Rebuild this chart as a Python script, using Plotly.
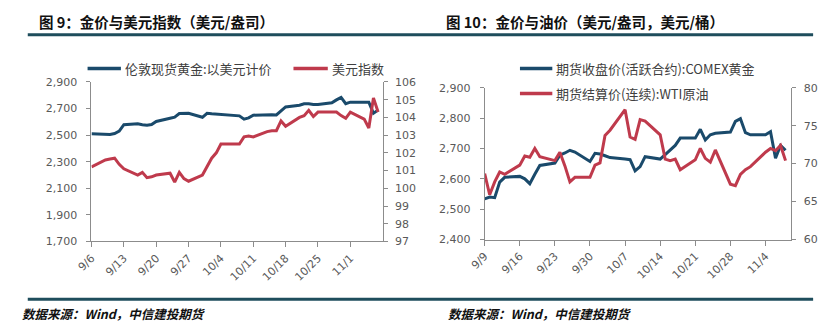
import plotly.graph_objects as go

# ---------------- Left chart: gold spot vs USD index ----------------
left_dates = ["2024-09-06","2024-09-09","2024-09-10","2024-09-11","2024-09-12","2024-09-13",
              "2024-09-16","2024-09-17","2024-09-18","2024-09-19","2024-09-20",
              "2024-09-23","2024-09-24","2024-09-25","2024-09-26","2024-09-27",
              "2024-09-30","2024-10-01","2024-10-02","2024-10-03","2024-10-04",
              "2024-10-07","2024-10-08","2024-10-09","2024-10-10","2024-10-11",
              "2024-10-14","2024-10-15","2024-10-16","2024-10-17","2024-10-18",
              "2024-10-21","2024-10-22","2024-10-23","2024-10-24","2024-10-25",
              "2024-10-28","2024-10-29","2024-10-30","2024-10-31","2024-11-01",
              "2024-11-04","2024-11-05","2024-11-06","2024-11-07"]
gold_spot = [2510,2507,2505,2512,2530,2578,
             2585,2578,2575,2580,2603,
             2627,2635,2662,2664,2664,
             2634,2664,2660,2658,2655,
             2652,2645,2620,2630,2650,
             2656,2654,2652,2680,2712,
             2725,2736,2736,2730,2730,
             2743,2765,2784,2736,2748,
             2748,2748,2664,2688]
usd_index = [101.2,101.6,101.65,101.7,101.35,101.1,
             100.75,100.9,100.6,100.65,100.75,
             100.85,100.35,100.9,100.55,100.4,
             100.75,101.2,101.7,102.0,102.5,
             102.5,102.5,102.9,102.95,102.9,
             103.2,103.25,103.25,103.8,103.5,
             104.0,104.1,104.4,104.05,104.3,
             104.3,104.3,104.1,103.95,104.3,
             103.9,103.4,105.1,104.3]
left_ticks = ["2024-09-06","2024-09-13","2024-09-20","2024-09-27","2024-10-04",
              "2024-10-11","2024-10-18","2024-10-25","2024-11-01"]
left_ticktext = ["9/6","9/13","9/20","9/27","10/4","10/11","10/18","10/25","11/1"]
left_names = ["伦敦现货黄金:以美元计价", "美元指数"]

# ---------------- Right chart: COMEX gold vs WTI ----------------
right_dates = ["2024-09-09","2024-09-10","2024-09-11","2024-09-12","2024-09-13",
               "2024-09-16","2024-09-17","2024-09-18","2024-09-19","2024-09-20",
               "2024-09-23","2024-09-24","2024-09-25","2024-09-26","2024-09-27",
               "2024-09-30","2024-10-01","2024-10-02","2024-10-03","2024-10-04",
               "2024-10-07","2024-10-08","2024-10-09","2024-10-10","2024-10-11",
               "2024-10-14","2024-10-15","2024-10-16","2024-10-17","2024-10-18",
               "2024-10-21","2024-10-22","2024-10-23","2024-10-24","2024-10-25",
               "2024-10-28","2024-10-29","2024-10-30","2024-10-31","2024-11-01",
               "2024-11-04","2024-11-05","2024-11-06","2024-11-07","2024-11-08"]
comex_gold = [2534,2540,2538,2589,2605,
              2608,2600,2584,2615,2644,
              2652,2678,2685,2694,2688,
              2657,2684,2682,2676,2670,
              2665,2663,2626,2640,2673,
              2665,2680,2694,2710,2734,
              2734,2763,2728,2745,2750,
              2754,2789,2798,2752,2745,
              2745,2755,2668,2710,2694]
wti_oil = [68.7,65.9,67.6,68.9,68.6,
           69.8,71.0,70.85,72.0,70.9,
           70.4,71.5,69.7,67.6,68.2,
           68.2,69.8,70.1,73.7,74.4,
           77.1,73.5,73.2,75.8,75.6,
           73.8,70.6,70.4,70.6,69.2,
           70.5,72.0,70.7,70.2,71.8,
           67.3,67.1,68.6,69.2,69.6,
           71.5,72.0,71.7,72.4,70.4]
right_ticks = ["2024-09-09","2024-09-16","2024-09-23","2024-09-30","2024-10-07",
               "2024-10-14","2024-10-21","2024-10-28","2024-11-04"]
right_ticktext = ["9/9","9/16","9/23","9/30","10/7","10/14","10/21","10/28","11/4"]
right_names = ["期货收盘价(活跃合约):COMEX黄金", "期货结算价(连续):WTI原油"]

BLUE = "#1A4A6B"
RED = "#BF3A4C"
AXC = "#8C8C8C"
TXT = "#595959"
LINEC = "#1E4D5C"
W, H = 819, 335

def px(x):
    return x / W

def py(y):
    return 1 - y / H

fig = go.Figure()
fig.add_trace(go.Scatter(x=left_dates, y=gold_spot, mode="lines", name=left_names[0],
                         line=dict(color=BLUE, width=3), xaxis="x", yaxis="y", showlegend=False))
fig.add_trace(go.Scatter(x=left_dates, y=usd_index, mode="lines", name=left_names[1],
                         line=dict(color=RED, width=3), xaxis="x", yaxis="y2", showlegend=False))
fig.add_trace(go.Scatter(x=right_dates, y=comex_gold, mode="lines", name=right_names[0],
                         line=dict(color=BLUE, width=3), xaxis="x2", yaxis="y3", showlegend=False))
fig.add_trace(go.Scatter(x=right_dates, y=wti_oil, mode="lines", name=right_names[1],
                         line=dict(color=RED, width=3), xaxis="x2", yaxis="y4", showlegend=False))

tickfont = dict(family="DejaVu Sans, Verdana, sans-serif", size=11, color=TXT)
common = dict(showgrid=False, zeroline=False, showline=True, linecolor=AXC, linewidth=1,
              ticks="outside", tickcolor=AXC, tickfont=tickfont)

fig.update_layout(
    width=W, height=H, margin=dict(l=0, r=0, t=0, b=0),
    paper_bgcolor="white", plot_bgcolor="white", showlegend=False,
    xaxis=dict(domain=[px(77), px(374)], anchor="y", type="date",
               range=["2024-09-06", "2024-11-08"], tickvals=left_ticks, ticktext=left_ticktext,
               tickangle=-45, ticklen=5, **common),
    yaxis=dict(domain=[py(245), py(79)], anchor="x", range=[1700, 2900],
               tickvals=[1700, 1900, 2100, 2300, 2500, 2700, 2900],
               tickformat=",d", ticklen=4, ticklabelstandoff=7, **common),
    yaxis2=dict(overlaying="y", anchor="x", side="right", range=[97, 106], dtick=1,
                ticklen=4, ticklabelstandoff=5, **common),
    xaxis2=dict(domain=[px(478), px(790)], anchor="y3", type="date",
                range=["2024-09-09", "2024-11-09"], tickvals=right_ticks, ticktext=right_ticktext,
                tickangle=-45, ticklen=5, **common),
    yaxis3=dict(domain=[py(243), py(85)], anchor="x2", range=[2400, 2900], dtick=100,
                tickformat=",d", ticklen=4, ticklabelstandoff=7, **common),
    yaxis4=dict(overlaying="y3", anchor="x2", side="right", range=[60, 80], dtick=5,
                ticklen=4, ticklabelstandoff=6, **common),
)

# legends (drawn as key lines + text)
leg_font = dict(family="Noto Sans CJK SC", size=13, color="#404040")
legend_items = [
    (73, 107, 65, BLUE, 110, left_names[0]),
    (283, 318, 65, RED, 321, left_names[1]),
    (514, 547, 65, BLUE, 550, right_names[0]),
    (514, 547, 91, RED, 550, right_names[1]),
]
for x0, x1, yy, col, tx, name in legend_items:
    fig.add_shape(type="line", xref="paper", yref="paper", x0=px(x0), x1=px(x1), y0=py(yy), y1=py(yy),
                  line=dict(color=col, width=3.5))
    fig.add_annotation(x=px(tx), y=py(yy), xref="paper", yref="paper", xanchor="left", yanchor="middle",
                       text=name, showarrow=False, font=leg_font, borderpad=0)

# titles
title_font = dict(family="Noto Sans CJK SC", size=14.5, color="#111111")
fig.add_annotation(x=px(22), y=py(16), xref="paper", yref="paper", xanchor="left", yanchor="middle",
                   text="<b>图 9：金价与美元指数（美元/盎司）</b>", showarrow=False, font=title_font, borderpad=0)
fig.add_annotation(x=px(438), y=py(16), xref="paper", yref="paper", xanchor="left", yanchor="middle",
                   text="<b>图 10：金价与油价（美元/盎司，美元/桶）</b>", showarrow=False, font=title_font, borderpad=0)

# separator lines
fig.add_shape(type="line", xref="paper", yref="paper", x0=px(12), x1=px(813), y0=py(30), y1=py(30),
              line=dict(color=LINEC, width=3))
fig.add_shape(type="line", xref="paper", yref="paper", x0=px(12), x1=px(813), y0=py(305), y1=py(305),
              line=dict(color=LINEC, width=3))

# source notes
src_font = dict(family="Noto Sans CJK SC", size=12.5, color="#111111")
fig.add_annotation(x=px(5), y=py(320), xref="paper", yref="paper", xanchor="left", yanchor="middle",
                   text="<b><i>数据来源：Wind，中信建投期货</i></b>", showarrow=False, font=src_font, borderpad=0)
fig.add_annotation(x=px(440), y=py(320), xref="paper", yref="paper", xanchor="left", yanchor="middle",
                   text="<b><i>数据来源：Wind，中信建投期货</i></b>", showarrow=False, font=src_font, borderpad=0)

fig.write_html("out.html")
